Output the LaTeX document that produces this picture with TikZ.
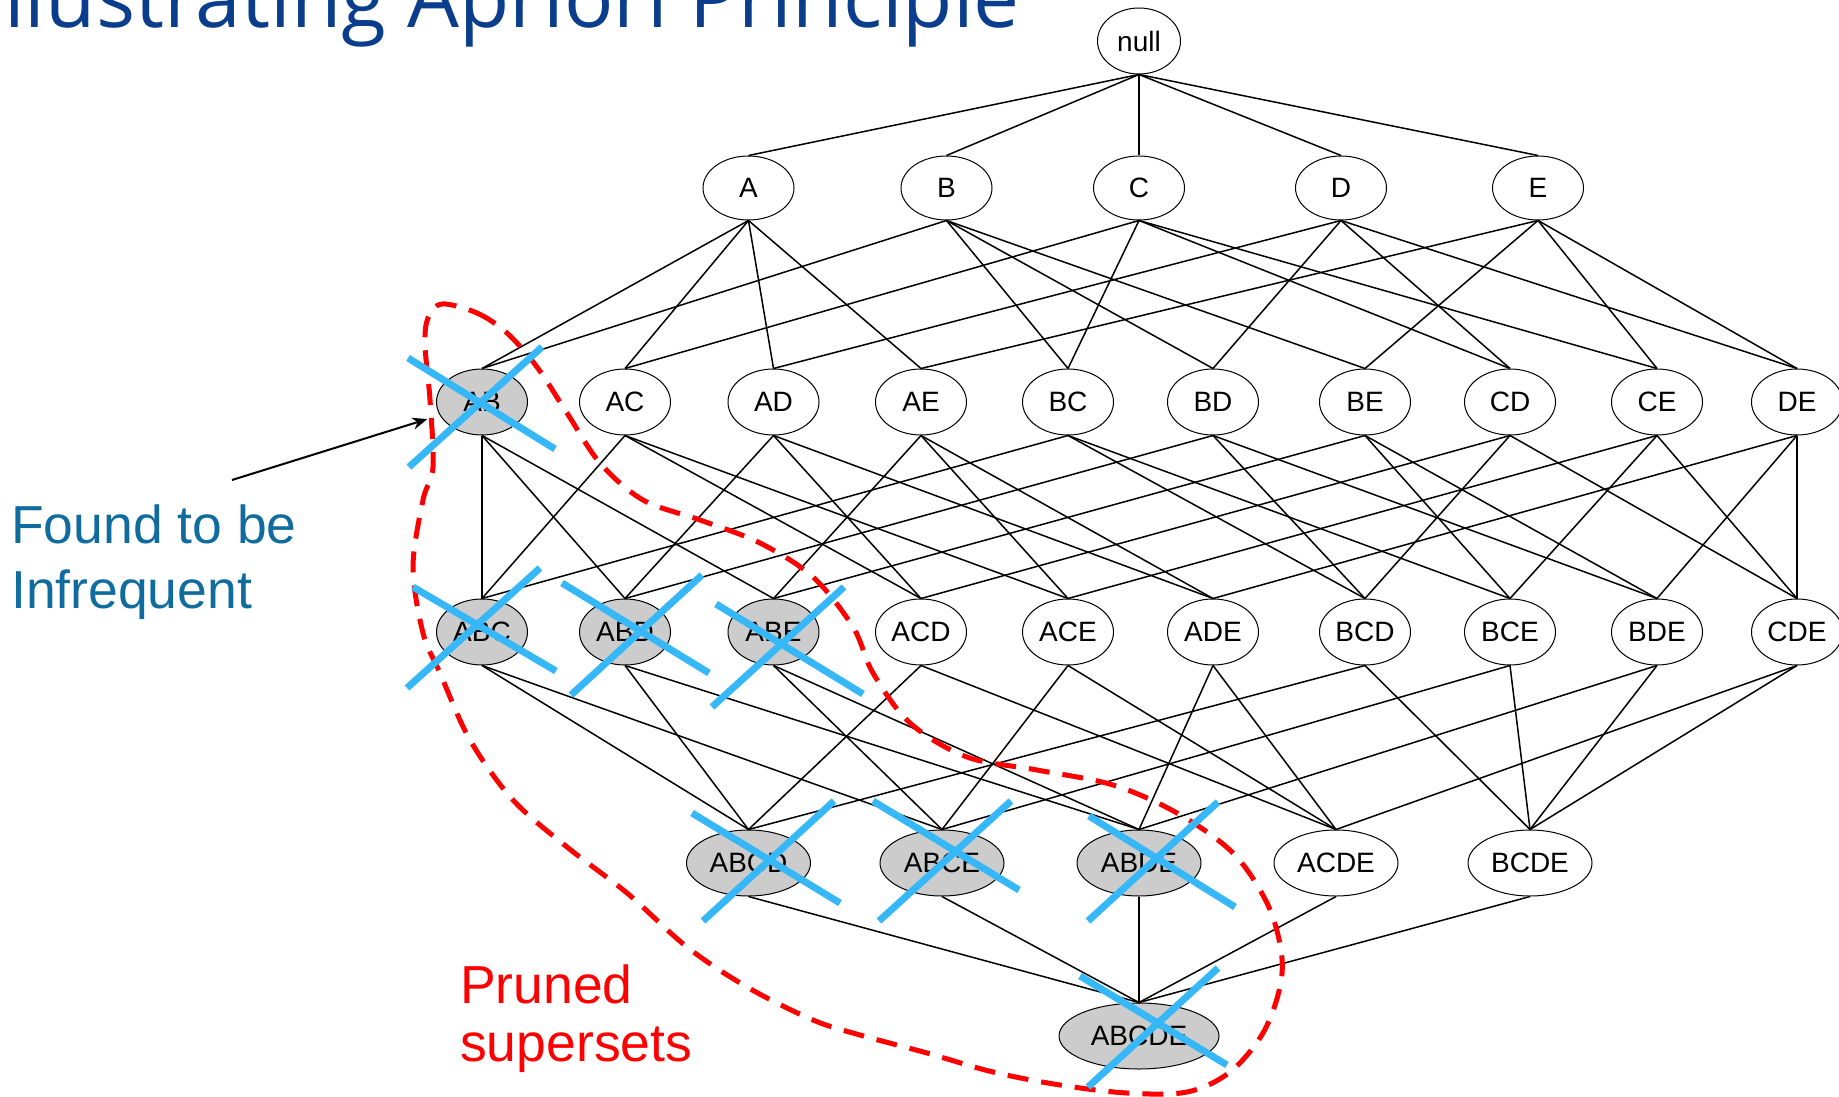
\documentclass[tikz,border=0pt]{standalone}
\usepackage{fontspec}
\setmainfont{Liberation Sans}
\newfontfamily\titlefont{Open Sans}
\usetikzlibrary{shapes.geometric,arrows.meta}
\definecolor{titleblue}{RGB}{10,62,140}
\definecolor{notecol}{RGB}{16,108,158}
\definecolor{crossblue}{RGB}{54,183,248}
\definecolor{prunedgray}{RGB}{204,204,204}

\begin{document}
\begin{tikzpicture}[x=1pt,y=-1pt,
  itemset/.style={ellipse,draw=black,line width=1pt,fill=white,inner sep=0pt,
    minimum width=91pt,minimum height=66pt,font=\fontsize{28}{28}\selectfont},
  four/.style={minimum width=124pt},
  five/.style={minimum width=160pt},
  pruned/.style={fill=prunedgray},
  link/.style={line width=1.5pt},
  xstroke/.style={line width=7pt,draw=crossblue},
  boundary/.style={draw=red,line width=5pt,dash pattern=on 21pt off 13pt},
  note/.style={anchor=base west,inner sep=0pt,font=\fontsize{53.5}{53.5}\selectfont},
]
\useasboundingbox (0,0) rectangle (1839,1097);

% title (runs off the top-left edge)
\node[anchor=base east,text=titleblue,inner sep=0pt,
  font=\titlefont\fontsize{82}{82}\selectfont] (title) at (1020,28)
  {Illustrating Apriori Principle};

% itemset lattice
\node[itemset,minimum width=83pt] (n0) at (1139,41) {null};

\foreach \n/\x in {A/748.5,B/946.5,C/1139,D/1341,E/1538}
  \node[itemset,minimum height=64pt] (\n) at (\x,188) {\n};

\node[itemset,pruned] (AB) at (482,402) {AB};
\foreach \n/\x in {AC/625,AD/773.5,AE/921,BC/1068,BD/1213,BE/1365,CD/1510,CE/1657,DE/1797}
  \node[itemset] (\n) at (\x,402) {\n};

\foreach \n/\x in {ABC/482,ABD/625,ABE/773.5}
  \node[itemset,pruned] (\n) at (\x,632) {\n};
\foreach \n/\x in {ACD/921,ACE/1068,ADE/1213,BCD/1365,BCE/1510,BDE/1657,CDE/1797}
  \node[itemset] (\n) at (\x,632) {\n};

\foreach \n/\x in {ABCD/748.5,ABCE/942,ABDE/1139}
  \node[itemset,four,pruned] (\n) at (\x,863) {\n};
\foreach \n/\x in {ACDE/1336,BCDE/1530}
  \node[itemset,four] (\n) at (\x,863) {\n};

\node[itemset,five,pruned] (ABCDE) at (1139,1036) {ABCDE};

% subset links
\foreach \v in {A,B,C,D,E}
  \draw[link] (n0.south) -- (\v.north);
\foreach \u/\v in {A/AB,A/AC,A/AD,A/AE,B/AB,B/BC,B/BD,B/BE,C/AC,C/BC,C/CD,C/CE,
    D/AD,D/BD,D/CD,D/DE,E/AE,E/BE,E/CE,E/DE}
  \draw[link] (\u.south) -- (\v.north);
\foreach \u/\v in {AB/ABC,AC/ABC,BC/ABC,AB/ABD,AD/ABD,BD/ABD,AB/ABE,AE/ABE,BE/ABE,
    AC/ACD,AD/ACD,CD/ACD,AC/ACE,AE/ACE,CE/ACE,AD/ADE,AE/ADE,DE/ADE,
    BC/BCD,BD/BCD,CD/BCD,BC/BCE,BE/BCE,CE/BCE,BD/BDE,BE/BDE,DE/BDE,
    CD/CDE,CE/CDE,DE/CDE}
  \draw[link] (\u.south) -- (\v.north);
\foreach \u/\v in {ABC/ABCD,ABD/ABCD,ACD/ABCD,BCD/ABCD,
    ABC/ABCE,ABE/ABCE,ACE/ABCE,BCE/ABCE,
    ABD/ABDE,ABE/ABDE,ADE/ABDE,BDE/ABDE,
    ACD/ACDE,ACE/ACDE,ADE/ACDE,CDE/ACDE,
    BCD/BCDE,BCE/BCDE,BDE/BCDE,CDE/BCDE}
  \draw[link] (\u.south) -- (\v.north);
\foreach \u in {ABCD,ABCE,ABDE,ACDE,BCDE}
  \draw[link] (\u.south) -- (ABCDE.north);

% annotation for the infrequent itemset
\node[note,text=notecol] (found) at (11,543) {Found to be};
\node[note,text=notecol] (infreq) at (11,608) {Infrequent};
\coordinate (tail) at (232,480);
\draw[line width=2pt,-{Stealth[length=15pt,width=12pt]},shorten >=13pt] (tail) -- (AB);

% region of pruned supersets
\draw[boundary] plot[smooth cycle,tension=0.55] coordinates {
  (442,304) (477,313) (507,333) (537,367) (567,413) (600,463) (643,500)
  (700,520) (760,543) (813,577) (853,627) (873,673) (910,723) (967,757)
  (1037,770) (1113,785) (1177,813) (1233,853) (1267,903) (1281,950)
  (1280,987) (1263,1033) (1230,1072) (1187,1092) (1127,1093) (1060,1085)
  (993,1072) (927,1053) (860,1035) (813,1020) (747,987) (687,947)
  (627,893) (567,847) (513,800) (470,740) (440,673) (423,633) (413,567)
  (423,500) (433,467) (430,400) (425,345) (428,318)};

\node[note,text=red] (pruned) at (460,1003) {Pruned};
\node[note,text=red] (supersets) at (460,1061) {supersets};

% crosses over the pruned itemsets
\draw[xstroke] (408,358) -- (555,449);   \draw[xstroke] (409,467) -- (542,347);
\draw[xstroke] (413,587) -- (556,671);   \draw[xstroke] (407,688) -- (540,568);
\draw[xstroke] (562,583) -- (709,673);   \draw[xstroke] (571,695) -- (702,575);
\draw[xstroke] (716,604) -- (863,694);   \draw[xstroke] (712,707) -- (844,587);
\draw[xstroke] (692,813) -- (840,903);   \draw[xstroke] (703,921) -- (834,801);
\draw[xstroke] (873,801) -- (1019,890);  \draw[xstroke] (879,921) -- (1011,801);
\draw[xstroke] (1089,816) -- (1235,907); \draw[xstroke] (1088,921) -- (1218,802);
\draw[xstroke] (1080,976) -- (1227,1065);\draw[xstroke] (1088,1087) -- (1218,968);
\end{tikzpicture}
\end{document}
